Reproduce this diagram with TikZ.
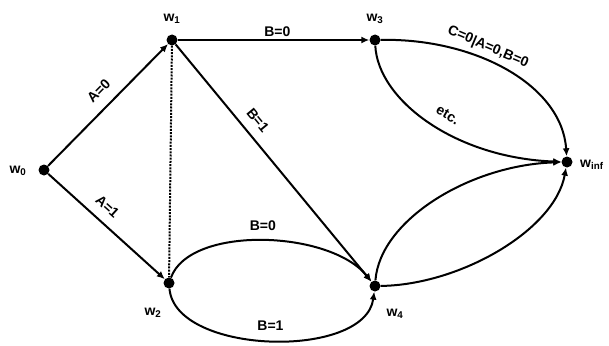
\documentclass[tikz,border=0pt]{standalone}
\usepackage{fontspec}
\setmainfont{Liberation Sans}
\usetikzlibrary{arrows.meta}
\begin{document}
\begin{tikzpicture}[x=1pt,y=-1pt,
 dot/.style={circle,fill=black,inner sep=0pt,minimum size=11pt},
 edge/.style={line width=2pt},
 arr/.style={edge,-{Latex[length=8pt,width=7pt]}},
 lbl/.style={font=\fontsize{14}{16}\bfseries\selectfont, inner sep=1.5pt},
 wl/.style={font=\fontsize{14}{16}\bfseries\selectfont, inner sep=0pt}]
\useasboundingbox (0,0) rectangle (609,345);
\node[dot] (w0) at (44,170) {};
\node[dot] (w1) at (172,40) {};
\node[dot] (w2) at (169,283) {};
\node[dot] (w3) at (375,40) {};
\node[dot] (w4) at (375,286) {};
\node[dot] (wi) at (567,162) {};
\node[wl] (lw0) at (18,171) {w\textsubscript{0}};
\node[wl] (lw1) at (172,19) {w\textsubscript{1}};
\node[wl] (lw3) at (375,19) {w\textsubscript{3}};
\node[wl] (lw2) at (153,313) {w\textsubscript{2}};
\node[wl] (lw4) at (395,314) {w\textsubscript{4}};
\node[wl,anchor=west] (lwi) at (580,165) {w\textsubscript{inf}};
\draw[arr] (w0) -- (w1) node[lbl,pos=0.52,sloped,above=9pt] {A=0};
\draw[arr] (w0) -- (w2) node[lbl,pos=0.42,sloped,above=8pt] {A=1};
\draw[arr] (w1) -- (w3) node[lbl,pos=0.52,above=1pt] {B=0};
\draw[arr] (w1) -- (w4) node[lbl,pos=0.36,sloped,above=8pt] {B=1};
\draw[edge,dash pattern=on 2pt off 1.2pt] (w1) -- (w2);
\draw[arr] (w2) .. controls (190,225) and (330,230) .. (w4) node[lbl,pos=0.5,above=7pt] {B=0};
\draw[arr] (w2) .. controls (175,355) and (365,360) .. (w4) node[lbl,pos=0.5,above=8pt] {B=1};
\draw[arr] (w3) .. controls (475,38) and (562,85) .. (wi) node[lbl,pos=0.39,sloped,above=3pt] {C=0|A=0,B=0};
\draw[arr] (w3) .. controls (378,100) and (455,158) .. (wi) node[lbl,pos=0.55,sloped,above=9pt] {etc.};
\draw[arr] (w4) .. controls (380,220) and (470,165) .. (wi);
\draw[arr] (w4) .. controls (460,285) and (555,230) .. (wi);
\end{tikzpicture}
\end{document}
